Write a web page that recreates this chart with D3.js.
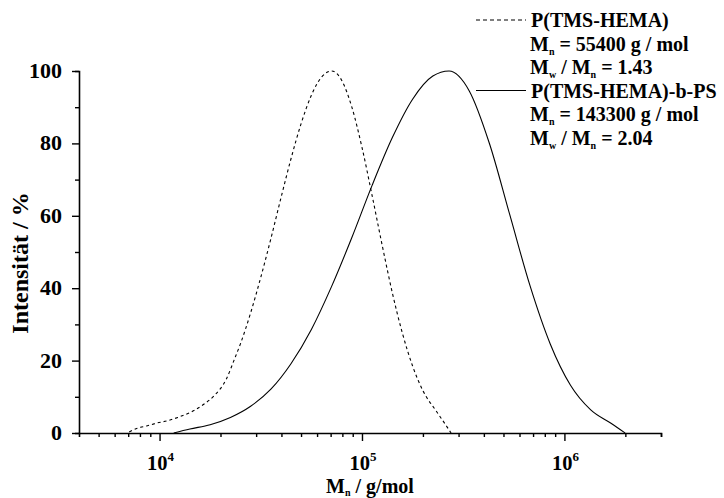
<!DOCTYPE html>
<html>
<head>
<meta charset="utf-8">
<script src="https://cdn.jsdelivr.net/npm/d3@7"></script>
<style>
  body { margin: 0; background: #fff; }
  svg text { font-family: "Liberation Serif", "Times New Roman", serif; font-weight: bold; fill: #000; }
</style>
</head>
<body>
<svg id="chart" width="724" height="498"></svg>
<script>
// P(TMS-HEMA), dashed: log10(M) and intensity in %
const homoLogM = [3.85, 3.89, 3.94, 3.99, 4.04, 4.09, 4.14, 4.17, 4.22, 4.27, 4.33, 4.37, 4.40, 4.45, 4.50, 4.55, 4.60, 4.65, 4.70, 4.75, 4.80, 4.85, 4.90, 4.95, 5.00, 5.05, 5.10, 5.15, 5.20, 5.25, 5.30, 5.37, 5.42, 5.44]
const homoInt  = [0.3, 1.3, 2.0, 2.8, 3.4, 4.3, 5.4, 6.2, 8.0, 10.3, 14.9, 20.4, 24.7, 33.2, 43.0, 53.7, 65.0, 75.9, 85.6, 93.3, 98.3, 100, 97.4, 90.0, 78.9, 65.6, 51.8, 38.7, 27.5, 18.5, 11.8, 5.8, 1.7, 0]

// P(TMS-HEMA)-b-PS, solid
const blockLogM = [4.07, 4.15, 4.25, 4.35, 4.45, 4.55, 4.65, 4.75, 4.85, 4.95, 5.05, 5.15, 5.25, 5.35, 5.43, 5.53, 5.63, 5.73, 5.83, 5.93, 6.03, 6.13, 6.23, 6.30]
const blockInt  = [0, 1.1, 2.3, 4.3, 7.4, 12.1, 19.2, 28.6, 40.5, 54.0, 68.4, 81.6, 92.2, 98.6, 100, 94.5, 79.9, 60.3, 40.7, 24.6, 13.2, 6.4, 2.7, 0]

const xMajor = [1e4, 1e5, 1e6]
const xMinor = [5e3, 6e3, 7e3, 8e3, 9e3, 2e4, 3e4, 4e4, 5e4, 6e4, 7e4, 8e4, 9e4,
                2e5, 3e5, 4e5, 5e5, 6e5, 7e5, 8e5, 9e5, 2e6, 3e6]
const yMajor = [0, 20, 40, 60, 80, 100]
const yMinor = [10, 30, 50, 70, 90]

const legendItems = [
  {name: 'P(TMS-HEMA)', mn: '55400', pdi: '1.43', dash: '4,3'},
  {name: 'P(TMS-HEMA)-b-PS', mn: '143300', pdi: '2.04', dash: null}
]

const svg = d3.select('#chart')
const x = d3.scaleLog().domain([4000, 3e6]).range([79, 661])
const y = d3.scaleLinear().domain([0, 100]).range([433, 71])

// axes
const gx = svg.append('g').attr('transform', `translate(0,${y(0)})`)
gx.call(d3.axisBottom(x).tickValues(xMinor).tickSize(4).tickFormat(''))
gx.append('g').call(d3.axisBottom(x).tickValues(xMajor).tickSize(8).tickFormat(''))
gx.selectAll('path.domain').attr('stroke-width', 1.6)
gx.selectAll('line').attr('stroke-width', 1.4)
gx.selectAll('g > g > path.domain').remove()

const gy = svg.append('g').attr('transform', `translate(${x(4000)},0)`)
gy.call(d3.axisLeft(y).tickValues(yMinor).tickSize(4).tickFormat(''))
gy.append('g').call(d3.axisLeft(y).tickValues(yMajor).tickSize(7).tickFormat(''))
gy.selectAll('path.domain').attr('stroke-width', 1.6)
gy.selectAll('line').attr('stroke-width', 1.4)
gy.selectAll('g > g > path.domain').remove()

// tick labels
svg.selectAll('.ylab').data(yMajor).enter().append('text')
  .attr('class', 'ylab')
  .attr('x', 62).attr('y', d => y(d) + 7)
  .attr('text-anchor', 'end')
  .style('font-size', '22px')
  .text(d => d)

const xl = svg.selectAll('.xlab').data(xMajor).enter().append('text')
  .attr('class', 'xlab')
  .attr('x', d => x(d) + 1).attr('y', 470)
  .attr('text-anchor', 'middle')
  .style('font-size', '20.5px')
xl.append('tspan').text('10')
xl.append('tspan').attr('dy', -9).style('font-size', '13px').text(d => Math.round(Math.log10(d)))

// axis titles
const xt = svg.append('text')
  .attr('x', 370).attr('y', 493)
  .attr('text-anchor', 'middle')
  .style('font-size', '20px')
xt.append('tspan').text('M')
xt.append('tspan').attr('dy', 3).style('font-size', '10px').text('n')
xt.append('tspan').attr('dy', -3).text(' / g/mol')

svg.append('text')
  .attr('transform', 'translate(28,263) rotate(-90)')
  .attr('text-anchor', 'middle')
  .style('font-size', '24px')
  .text('Intensität / %')

// curves
const line = d3.line().x(d => x(Math.pow(10, d[0]))).y(d => y(d[1])).curve(d3.curveMonotoneX)
svg.append('path')
  .datum(d3.zip(homoLogM, homoInt))
  .attr('d', line)
  .attr('fill', 'none').attr('stroke', '#000').attr('stroke-width', 1.1)
  .attr('stroke-dasharray', '3,3')
svg.append('path')
  .datum(d3.zip(blockLogM, blockInt))
  .attr('d', line)
  .attr('fill', 'none').attr('stroke', '#000').attr('stroke-width', 1.1)

// legend
const lineGap = 23.5
legendItems.forEach((it, i) => {
  const top = 27 + i * 3 * lineGap
  svg.append('line')
    .attr('x1', 476).attr('x2', 526)
    .attr('y1', top - 7).attr('y2', top - 7)
    .attr('stroke', '#000').attr('stroke-width', 1.1)
    .attr('stroke-dasharray', it.dash)
  svg.append('text').attr('x', 531).attr('y', top)
    .style('font-size', '20px').text(it.name)
  const t2 = svg.append('text').attr('x', 530).attr('y', top + lineGap).style('font-size', '20px')
  t2.append('tspan').text('M')
  t2.append('tspan').attr('dy', 4).style('font-size', '10px').text('n')
  t2.append('tspan').attr('dy', -4).text(` = ${it.mn} g / mol`)
  const t3 = svg.append('text').attr('x', 530).attr('y', top + 2 * lineGap).style('font-size', '20px')
  t3.append('tspan').text('M')
  t3.append('tspan').attr('dy', 4).style('font-size', '10px').text('w')
  t3.append('tspan').attr('dy', -4).text(' / M')
  t3.append('tspan').attr('dy', 4).style('font-size', '10px').text('n')
  t3.append('tspan').attr('dy', -4).text(` = ${it.pdi}`)
})
</script>
</body>
</html>
